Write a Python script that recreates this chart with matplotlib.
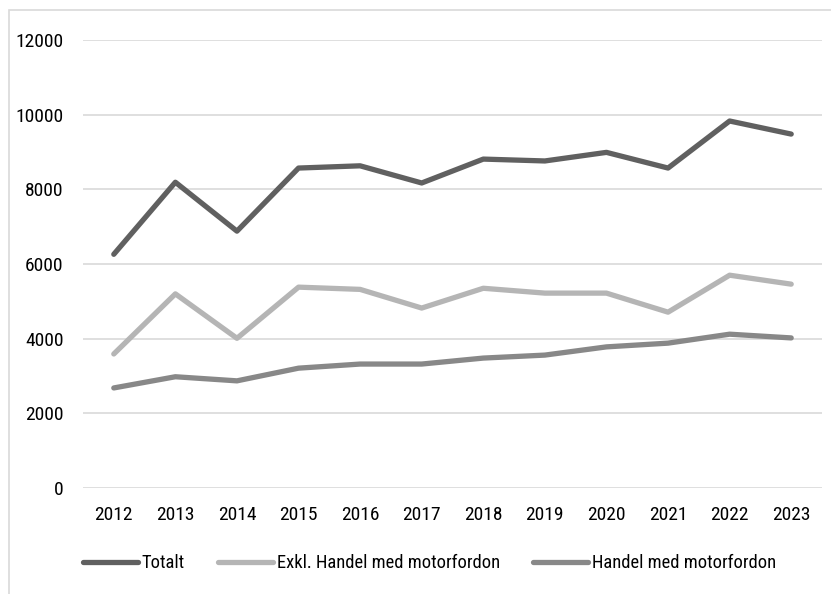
import matplotlib
matplotlib.use("Agg")
import matplotlib.pyplot as plt
from matplotlib.patches import Rectangle

years = ["2012", "2013", "2014", "2015", "2016", "2017", "2018", "2019", "2020", "2021", "2022", "2023"]
totalt = [6260, 8190, 6880, 8570, 8630, 8170, 8810, 8760, 8990, 8570, 9830, 9480]
exkl = [3590, 5200, 4010, 5380, 5320, 4820, 5350, 5220, 5220, 4710, 5700, 5460]
handel = [2680, 2980, 2870, 3210, 3320, 3320, 3480, 3560, 3780, 3880, 4120, 4020]
series_names = ["Totalt", "Exkl. Handel med motorfordon", "Handel med motorfordon"]
colors = ["#606060", "#b5b5b5", "#888888"]

plt.rcParams['font.family'] = ["Roboto Condensed", "DejaVu Sans"]

W, H = 831, 594
fig = plt.figure(figsize=(W / 100, H / 100), dpi=100)
fig.patches.append(Rectangle((9 / W, -0.01), 1.0, 1 - 10 / H + 0.01, transform=fig.transFigure,
                             fill=False, edgecolor="#d9d9d9", linewidth=1.2))

ax = fig.add_axes([83 / W, (H - 488) / H, (822 - 83) / W, (488 - 40) / H])
x = list(range(len(years)))
for vals, name, c in zip([totalt, exkl, handel], series_names, colors):
    ax.plot(x, vals, color=c, linewidth=3.8, solid_capstyle="round", solid_joinstyle="round", label=name)

ax.set_xlim(-0.5, len(years) - 0.5)
ax.set_ylim(0, 12000)
ax.set_yticks(range(0, 12001, 2000))
ax.set_xticks(x)
ax.set_xticklabels(years)
ax.grid(axis="y", color="#d9d9d9", linewidth=1.2)
ax.set_axisbelow(True)
for s in ax.spines.values():
    s.set_visible(False)
ax.tick_params(axis="both", length=0, labelsize=14, colors="#000000")
ax.tick_params(axis="y", pad=14)
ax.tick_params(axis="x", pad=13)

handles, labels = ax.get_legend_handles_labels()
fig.legend(handles, labels, loc="center left", bbox_to_anchor=(83 / W, (H - 563) / H), ncol=3,
           frameon=False, fontsize=13.3, handlelength=2.97, handletextpad=0.22, columnspacing=1.78,
           borderaxespad=0, borderpad=0)

fig.savefig("out.png", dpi=100)
